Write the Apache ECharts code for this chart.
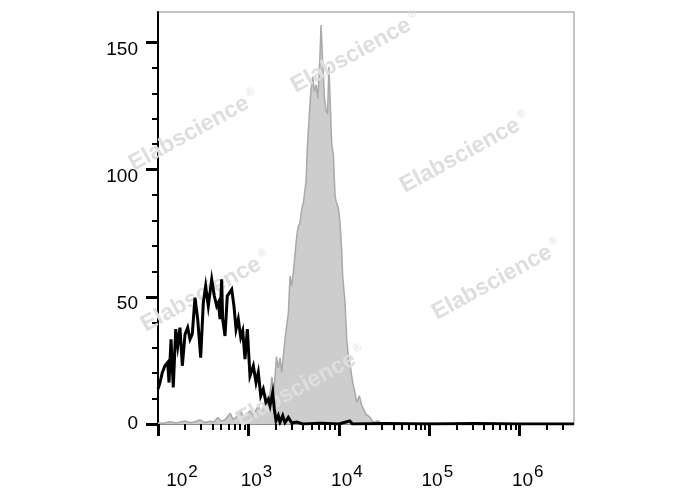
<!DOCTYPE html>
<html>
<head>
<meta charset="utf-8">
<style>html,body{margin:0;padding:0;background:#fff;}#c{width:688px;height:490px;}</style>
<script src="https://cdn.jsdelivr.net/npm/echarts@6/dist/echarts.min.js"></script>
</head>
<body>
<div id="c"></div>
<script>
// x values are log10(fluorescence), y values are cell counts
const blackX = [2.000,2.022,2.048,2.077,2.107,2.122,2.144,2.169,2.196,2.218,2.243,2.269,2.299,2.328,2.354,2.379,2.409,2.439,2.472,2.501,2.527,2.556,2.594,2.623,2.649,2.667,2.686,2.704,2.715,2.741,2.766,2.815,2.840,2.863,2.888,2.915,2.937,2.962,2.988,3.017,3.054,3.084,3.109,3.136,3.164,3.194,3.220,3.239,3.268,3.286,3.305,3.330,3.349,3.379,3.404,3.441,3.48,3.534,3.60,3.80,4.00,4.12,4.15,4.50,5.00,5.50,6.00,6.60];
const blackY = [13.7,16.3,20.3,22.9,24.2,16.3,33.3,14.4,37.3,30.7,37.9,22.9,35.3,37.9,33.3,35.3,49.7,41.2,26.1,47.7,54.2,46.4,56.9,50.3,46.4,47.7,41.2,56.9,41.2,34.6,50.3,52.9,46.4,37.3,41.2,34.0,36.6,25.5,37.3,18.9,22.9,16.3,20.3,11.1,13.7,8.5,9.8,7.2,12.4,5.9,1.3,3.3,0.7,3.3,0.5,2.6,0.4,0.8,0,0.3,0,1.2,0,0.2,0,0.2,0,0];
const grayX = [2.00,2.06,2.13,2.20,2.30,2.36,2.41,2.46,2.52,2.57,2.62,2.66,2.70,2.74,2.80,2.83,2.86,2.91,2.94,2.98,3.02,3.05,3.07,3.11,3.13,3.16,3.19,3.21,3.24,3.26,3.28,3.31,3.33,3.35,3.368,3.404,3.423,3.442,3.460,3.478,3.496,3.534,3.551,3.570,3.589,3.607,3.637,3.651,3.673,3.690,3.711,3.730,3.749,3.768,3.791,3.803,3.819,3.841,3.860,3.875,3.890,3.904,3.921,3.939,3.957,3.968,3.994,4.013,4.031,4.042,4.068,4.087,4.104,4.131,4.153,4.178,4.197,4.226,4.253,4.270,4.300,4.344,4.38,4.43,4.47,4.60,4.80,5.00,5.30,5.60,6.00,6.60];
const grayY = [0.5,0.3,0.9,0.4,1.2,0.5,0.9,1.6,0.6,1.1,0.8,2.6,1.2,1.6,4.2,1.8,2.5,5.6,3.0,4.0,5.2,3.5,4.5,7.5,5.0,6.0,10.0,7.5,12.4,18.5,12.0,26.5,22.0,26.0,20.3,33.3,38.6,43.8,58.2,54.2,59.5,73.8,77.8,79.1,84.3,86.9,95.4,108.5,121.6,130.7,136.6,130.7,133.3,128.0,145.1,156.9,143.8,128.1,122.9,122.0,140.5,126.8,109.8,105.9,90.2,87.6,85.0,79.1,68.6,58.2,47.7,33.3,26.8,21.6,16.3,12.4,8.5,11.1,7.2,7.8,3.9,2.6,0.6,1.2,0.3,0.4,0.2,0.3,0.1,0.2,0.1,0];
const xMajorTicks = [2,3,4,5,6];
const xMinorMult = [2,3,4,5,6,7,8,9];
const yMajorTicks = [0,50,100,150];
const yMinorTicks = [10,20,30,40,60,70,80,90,110,120,130,140];
const watermarks = [[356,53],[194,131],[465,153],[206,292],[497,280],[301,387]];

const xMinorTicks = [];
for (let d = 2; d <= 6; d++) xMinorMult.forEach(m => { const v = d + Math.log10(m); if (v < 6.6) xMinorTicks.push(v); });
const zip = (a, b) => a.map((v, i) => [v, b[i]]);

const FONT = 'Liberation Sans, Arial, sans-serif';
const chart = echarts.init(document.getElementById('c'), null, {renderer: 'canvas'});
chart.setOption({
  animation: false,
  backgroundColor: '#fff',
  grid: {left: 158, top: 12, right: 114, bottom: 65, show: true, borderColor: '#8c8c8c', borderWidth: 1, backgroundColor: 'transparent'},
  xAxis: [{
    type: 'value', min: 2, max: 6.6, position: 'bottom',
    axisLine: {show: true, lineStyle: {color: '#8c8c8c', width: 1}},
    axisTick: {show: true, customValues: xMajorTicks, length: 12, lineStyle: {color: '#000', width: 3}},
    axisLabel: {
      show: true, customValues: xMajorTicks, margin: 40, color: '#000', fontFamily: FONT,
      formatter: v => (v === 2 ? '{g|}' : '{h|}') + '{b|10}{s|' + v + '}',
      rich: {
        g: {width: 48, height: 10},
        h: {width: 16, height: 10},
        b: {fontSize: 19, fontFamily: FONT, color: '#000', verticalAlign: 'bottom'},
        s: {fontSize: 17, fontFamily: FONT, color: '#000', verticalAlign: 'bottom', padding: [0, 0, 9, 1]}
      }
    },
    splitLine: {show: false}
  }, {
    type: 'value', min: 2, max: 6.6, position: 'bottom',
    axisLine: {show: false},
    axisTick: {show: true, customValues: xMinorTicks, length: 6, lineStyle: {color: '#000', width: 2}},
    axisLabel: {show: false},
    splitLine: {show: false}
  }],
  yAxis: [{
    type: 'value', min: 0, max: 162, position: 'left',
    axisLine: {show: true, lineStyle: {color: '#000', width: 2}},
    axisTick: {show: true, customValues: yMajorTicks, length: 12, lineStyle: {color: '#000', width: 3}},
    axisLabel: {
      show: true, customValues: yMajorTicks, margin: 20, color: '#000', fontFamily: FONT,
      formatter: v => v === 0 ? '{z|0}' : '{o|' + v + '}',
      rich: {
        z: {fontSize: 19, fontFamily: FONT, color: '#000'},
        o: {fontSize: 19, fontFamily: FONT, color: '#000', padding: [14, 0, 0, 0]}
      }
    },
    splitLine: {show: false}
  }, {
    type: 'value', min: 0, max: 162, position: 'left',
    axisLine: {show: false},
    axisTick: {show: true, customValues: yMinorTicks, length: 6, lineStyle: {color: '#000', width: 2}},
    axisLabel: {show: false},
    splitLine: {show: false}
  }],
  graphic: watermarks.map(p => ({
    type: 'text', x: p[0], y: p[1], rotation: 0.5, z: 5,
    style: {
      text: '{a|Elabscience}{r|®}', align: 'center', verticalAlign: 'middle',
      rich: {
        a: {fontSize: 23, fontWeight: 'bold', fontFamily: FONT, fill: '#dedede'},
        r: {fontSize: 11, fontFamily: FONT, fill: '#dedede', verticalAlign: 'top', padding: [0, 0, 14, 3]}
      }
    }
  })),
  series: [{
    type: 'line', data: zip(grayX, grayY), xAxisIndex: 0, yAxisIndex: 0,
    symbol: 'none', z: 2, silent: true,
    lineStyle: {color: '#a9a9a9', width: 1.5},
    areaStyle: {color: '#cdcdcd', opacity: 1, origin: 'start'}
  }, {
    type: 'line', data: zip(blackX, blackY), xAxisIndex: 0, yAxisIndex: 0,
    symbol: 'none', z: 10, silent: true,
    lineStyle: {color: '#000', width: 3, join: 'miter'}
  }]
});
</script>
</body>
</html>
